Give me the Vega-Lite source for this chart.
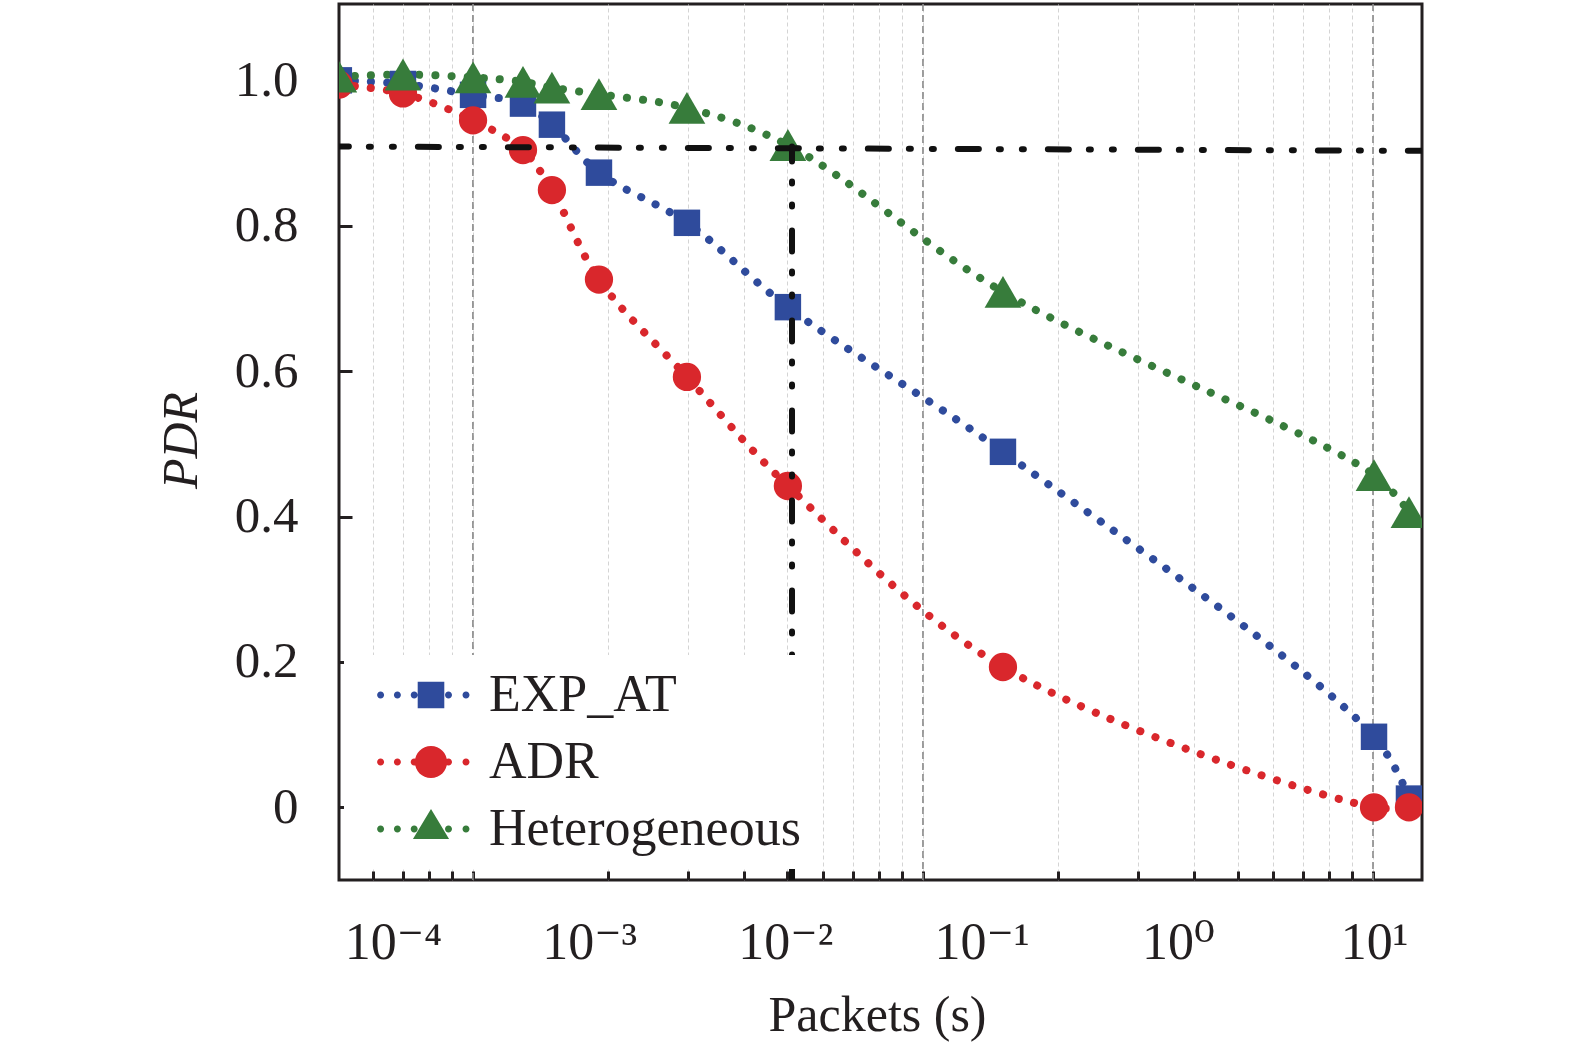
{
  "$schema": "https://vega.github.io/schema/vega-lite/v6.json",
  "width": 1083,
  "height": 876,
  "autosize": {"type": "none"},
  "padding": {"left": 339, "top": 4, "right": 153, "bottom": 176},
  "background": "white",
  "config": {
    "view": {"stroke": "#231f20", "strokeWidth": 3},
    "font": "Liberation Serif, DejaVu Serif",
    "axis": {"labelFont": "Liberation Serif, DejaVu Serif", "titleFont": "Liberation Serif", "labelColor": "#231f20", "titleColor": "#231f20"}
  },
  "datasets": {
    "decades": [{"g": 0.1}, {"g": 1}, {"g": 10}],
    "series": [
      {"series": "EXP_AT", "x": 5.3e-5, "pdr": 1.0},
      {"series": "EXP_AT", "x": 1.125e-4, "pdr": 0.995},
      {"series": "EXP_AT", "x": 2.56e-4, "pdr": 0.98},
      {"series": "EXP_AT", "x": 4.6e-4, "pdr": 0.968},
      {"series": "EXP_AT", "x": 6.46e-4, "pdr": 0.939},
      {"series": "EXP_AT", "x": 1.122e-3, "pdr": 0.873},
      {"series": "EXP_AT", "x": 3.15e-3, "pdr": 0.804},
      {"series": "EXP_AT", "x": 1.03e-2, "pdr": 0.688},
      {"series": "EXP_AT", "x": 0.1285, "pdr": 0.489},
      {"series": "EXP_AT", "x": 10, "pdr": 0.097},
      {"series": "EXP_AT", "x": 15.07, "pdr": 0.012},
      {"series": "ADR", "x": 5.3e-5, "pdr": 0.994},
      {"series": "ADR", "x": 1.125e-4, "pdr": 0.982},
      {"series": "ADR", "x": 2.56e-4, "pdr": 0.945},
      {"series": "ADR", "x": 4.6e-4, "pdr": 0.904},
      {"series": "ADR", "x": 6.46e-4, "pdr": 0.849},
      {"series": "ADR", "x": 1.122e-3, "pdr": 0.726},
      {"series": "ADR", "x": 3.15e-3, "pdr": 0.592},
      {"series": "ADR", "x": 1.03e-2, "pdr": 0.442},
      {"series": "ADR", "x": 0.1285, "pdr": 0.193},
      {"series": "ADR", "x": 10, "pdr": 0.0},
      {"series": "ADR", "x": 15.07, "pdr": 0.0},
      {"series": "Heterogeneous", "x": 5.3e-5, "pdr": 1.005},
      {"series": "Heterogeneous", "x": 1.125e-4, "pdr": 1.008},
      {"series": "Heterogeneous", "x": 2.56e-4, "pdr": 1.004},
      {"series": "Heterogeneous", "x": 4.6e-4, "pdr": 0.998},
      {"series": "Heterogeneous", "x": 6.46e-4, "pdr": 0.99},
      {"series": "Heterogeneous", "x": 1.122e-3, "pdr": 0.981},
      {"series": "Heterogeneous", "x": 3.15e-3, "pdr": 0.962},
      {"series": "Heterogeneous", "x": 1.03e-2, "pdr": 0.911},
      {"series": "Heterogeneous", "x": 0.1285, "pdr": 0.709},
      {"series": "Heterogeneous", "x": 10, "pdr": 0.457},
      {"series": "Heterogeneous", "x": 15.07, "pdr": 0.406}
    ],
    "refs": [
      {"ref": "h", "seq": 1, "x": 5.0e-5, "pdr": 0.909},
      {"ref": "h", "seq": 2, "x": 18, "pdr": 0.903},
      {"ref": "v", "seq": 1, "x": 0.01081, "pdr": 0.909},
      {"ref": "v", "seq": 2, "x": 0.01081, "pdr": -0.1}
    ]
  },
  "layer": [
    {
      "data": {"name": "decades"},
      "mark": {"type": "rule", "color": "#8a8a8a", "strokeWidth": 1.6, "strokeDash": [7, 4]},
      "encoding": {
        "x": {
          "field": "g",
          "type": "quantitative",
          "scale": {"type": "log", "domain": [0.0504, 12.85], "nice": false},
          "axis": {
            "orient": "bottom",
            "values": [0.06, 0.07, 0.08, 0.09, 0.1, 0.2, 0.3, 0.4, 0.5, 0.6, 0.7, 0.8, 0.9, 1, 2, 3, 4, 5, 6, 7, 8, 9, 10],
            "labels": false,
            "title": null,
            "domain": false,
            "grid": true,
            "gridColor": "#d4d4d4",
            "gridDash": [4, 3],
            "gridWidth": 1,
            "ticks": true,
            "tickSize": -9,
            "tickWidth": 3,
            "tickColor": "#231f20"
          }
        }
      }
    },
    {
      "encoding": {
        "x": {
          "field": "x",
          "type": "quantitative",
          "scale": {"type": "log", "domain": [5.31e-5, 17.56], "nice": false},
          "axis": {
            "orient": "bottom",
            "values": [0.0001, 0.001, 0.01, 0.1, 1, 10],
            "labelExpr": "datum.value < 0.0005 ? '10⁻⁴' : datum.value < 0.005 ? '10⁻³' : datum.value < 0.05 ? '10⁻²' : datum.value < 0.5 ? '10⁻¹' : datum.value < 5 ? '10⁰' : '10¹'",
            "ticks": false,
            "tickSize": 0,
            "domain": false,
            "grid": false,
            "labelFontSize": 52,
            "labelPadding": 78,
            "labelBaseline": "alphabetic",
            "labelFlush": false,
            "labelOverlap": false,
            "title": "Packets (s)",
            "titleFontSize": 50,
            "titleFontWeight": "normal",
            "titleX": 538,
            "titleY": 150,
            "titleAlign": "center",
            "titleBaseline": "alphabetic"
          }
        },
        "y": {
          "field": "pdr",
          "type": "quantitative",
          "scale": {"domain": [-0.1, 1.105], "nice": false, "zero": false},
          "axis": {
            "values": [0, 0.2, 0.4, 0.6, 0.8, 1],
            "labelExpr": "datum.value == 0 ? '0' : format(datum.value, '.1f')",
            "labelFontSize": 51,
            "labelPadding": 54,
            "tickSize": -13,
            "tickWidth": 3,
            "tickColor": "#231f20",
            "domain": false,
            "grid": false,
            "title": "PDR",
            "titleFontSize": 50,
            "titleFontStyle": "italic",
            "titleFontWeight": "normal",
            "titleAngle": -90,
            "titleX": -143,
            "titleY": 436,
            "titleAlign": "center",
            "titleBaseline": "alphabetic"
          }
        }
      },
      "layer": [
        {
          "data": {"name": "series"},
          "transform": [{"filter": "datum.series === 'EXP_AT'"}],
          "mark": {"type": "line", "color": "#2f4b9c", "interpolate": "catmull-rom", "strokeWidth": 8, "strokeDash": [0.1, 16], "strokeCap": "round", "clip": true},
          "encoding": {}
        },
        {
          "data": {"name": "series"},
          "transform": [{"filter": "datum.series === 'ADR'"}],
          "mark": {"type": "line", "color": "#d9272c", "interpolate": "catmull-rom", "strokeWidth": 8, "strokeDash": [0.1, 16], "strokeCap": "round", "clip": true},
          "encoding": {}
        },
        {
          "data": {"name": "series"},
          "transform": [{"filter": "datum.series === 'Heterogeneous'"}],
          "mark": {"type": "line", "color": "#377c3b", "interpolate": "catmull-rom", "strokeWidth": 8, "strokeDash": [0.1, 16], "strokeCap": "round", "clip": true},
          "encoding": {}
        },
        {
          "data": {"name": "series"},
          "transform": [{"filter": "datum.series === 'EXP_AT'"}],
          "mark": {"type": "point", "filled": true, "opacity": 1, "shape": "square", "size": 700, "clip": true},
          "encoding": {
            "color": {
              "field": "series",
              "type": "nominal",
              "scale": {"domain": ["EXP_AT", "ADR", "Heterogeneous"], "range": ["#2f4b9c", "#d9272c", "#377c3b"]},
              "legend": {
                "orient": "none",
                "legendX": 5,
                "legendY": 651,
                "title": null,
                "padding": 14,
                "fillColor": "white",
                "symbolSize": 784,
                "symbolOffset": 47,
                "symbolStrokeWidth": 0,
                "symbolOpacity": 1,
                "labelFont": "Liberation Serif",
                "labelFontSize": 52,
                "labelColor": "#231f20",
                "labelOffset": 32,
                "labelLimit": 600,
                "rowPadding": 15,
                "encode": {
                  "symbols": {
                    "update": {
                      "shape": {"signal": "(datum.value === 'EXP_AT' ? 'M-0.95 -0.95L0.95 -0.95L0.95 0.95L-0.95 0.95Z' : datum.value === 'ADR' ? 'M-1.15 0A1.15 1.15 0 1 1 1.15 0A1.15 1.15 0 1 1 -1.15 0Z' : 'M0 -1.43L1.29 0.71L-1.29 0.71Z') + 'M-3.85 0A0.25 0.25 0 1 1 -3.35 0A0.25 0.25 0 1 1 -3.85 0ZM-2.65 0A0.25 0.25 0 1 1 -2.15 0A0.25 0.25 0 1 1 -2.65 0ZM-1.45 0A0.25 0.25 0 1 1 -0.95 0A0.25 0.25 0 1 1 -1.45 0ZM1 0A0.25 0.25 0 1 1 1.5 0A0.25 0.25 0 1 1 1 0ZM2.25 0A0.25 0.25 0 1 1 2.75 0A0.25 0.25 0 1 1 2.25 0Z'"}
                    }
                  }
                }
              }
            }
          }
        },
        {
          "data": {"name": "series"},
          "transform": [{"filter": "datum.series === 'ADR'"}],
          "mark": {"type": "point", "filled": true, "opacity": 1, "shape": "circle", "size": 800, "clip": true},
          "encoding": {
            "color": {"field": "series", "type": "nominal"}
          }
        },
        {
          "data": {"name": "series"},
          "transform": [{"filter": "datum.series === 'Heterogeneous'"}],
          "mark": {"type": "point", "filled": true, "opacity": 1, "shape": "triangle-up", "size": 1350, "clip": true},
          "encoding": {
            "color": {"field": "series", "type": "nominal"}
          }
        },
        {
          "data": {"name": "refs"},
          "mark": {"type": "line", "color": "#111111", "strokeWidth": 6, "strokeDash": [21, 20, 2, 21, 2, 24], "strokeCap": "round", "strokeDashOffset": 6, "clip": true},
          "encoding": {
            "detail": {"field": "ref", "type": "nominal"},
            "order": {"field": "seq", "type": "quantitative"}
          }
        }
      ]
    }
  ],
  "resolve": {"scale": {"x": "independent"}, "axis": {"x": "independent"}}
}
